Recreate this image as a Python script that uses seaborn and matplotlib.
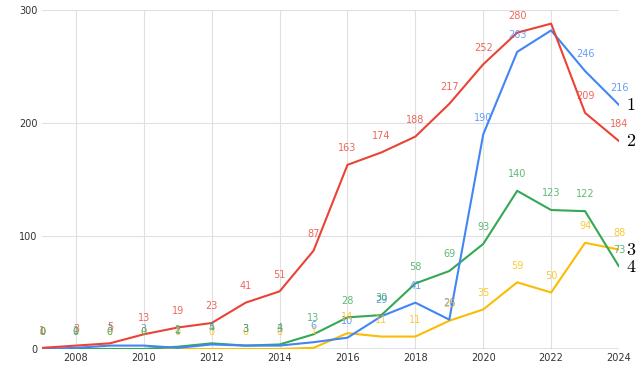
import matplotlib
matplotlib.use("Agg")
import matplotlib.pyplot as plt
import seaborn as sns
import pandas as pd

years = list(range(2007, 2025))
series_1 = [0, 1, 3, 3, 1, 4, 3, 3, 6, 10, 29, 41, 26, 190, 263, 282, 246, 216]
series_2 = [1, 3, 5, 13, 19, 23, 41, 51, 87, 163, 174, 188, 217, 252, 280, 288, 209, 184]
series_3 = [0, 0, 0, 0, 0, 0, 0, 0, 1, 14, 11, 11, 25, 35, 59, 50, 94, 88]
series_4 = [0, 0, 0, 0, 2, 5, 3, 4, 13, 28, 30, 58, 69, 93, 140, 123, 122, 73]
series_names = ["1", "2", "3", "4"]
colors = ["#4285F4", "#EA4335", "#FBBC04", "#34A853"]
hidden_labels = {("1", 2022), ("2", 2022)}

data = pd.DataFrame({
    "year": years * 4,
    "value": series_1 + series_2 + series_3 + series_4,
    "series": sum([[n] * len(years) for n in series_names], []),
})

sns.set_style("white")
plt.rcParams["mathtext.fontset"] = "cm"
fig = plt.figure(figsize=(6.41, 3.86), dpi=100)
ax = fig.add_axes([0.0655, 0.0959, 0.9002, 0.878])

order = ["3", "4", "1", "2"]
pal = dict(zip(series_names, colors))
for name in order:
    sub = data[data.series == name]
    sns.lineplot(data=sub, x="year", y="value", color=pal[name], lw=1.5,
                 ax=ax, legend=False, zorder=3)

ax.set_xlim(2007, 2024)
ax.set_ylim(0, 300)
ax.set_xticks(range(2008, 2025, 2))
ax.set_yticks([0, 100, 200, 300])
ax.grid(True, color="#e0e0e0", lw=0.8)
ax.axhline(0, color="#777777", lw=1, zorder=2)
for s in ax.spines.values():
    s.set_visible(False)
ax.tick_params(axis="both", length=0, labelsize=7, labelcolor="#333333", pad=3)
ax.set_xlabel("")
ax.set_ylabel("")

for name in series_names:
    sub = data[data.series == name]
    for x, y in zip(sub.year, sub.value):
        if (name, x) in hidden_labels:
            continue
        ax.annotate(str(y), (x, y), xytext=(0, 12), textcoords="offset points",
                    ha="center", va="center", fontsize=7, color=pal[name],
                    alpha=0.8, zorder=4, annotation_clip=False)

for name in series_names:
    sub = data[data.series == name]
    x, y = sub.year.iloc[-1], sub.value.iloc[-1]
    ax.annotate("$\\mathrm{" + name + "}$", (x, y), xytext=(5, 0),
                textcoords="offset points", ha="left", va="center",
                fontsize=13, color="black", annotation_clip=False)

fig.savefig("out.png", dpi=100)
